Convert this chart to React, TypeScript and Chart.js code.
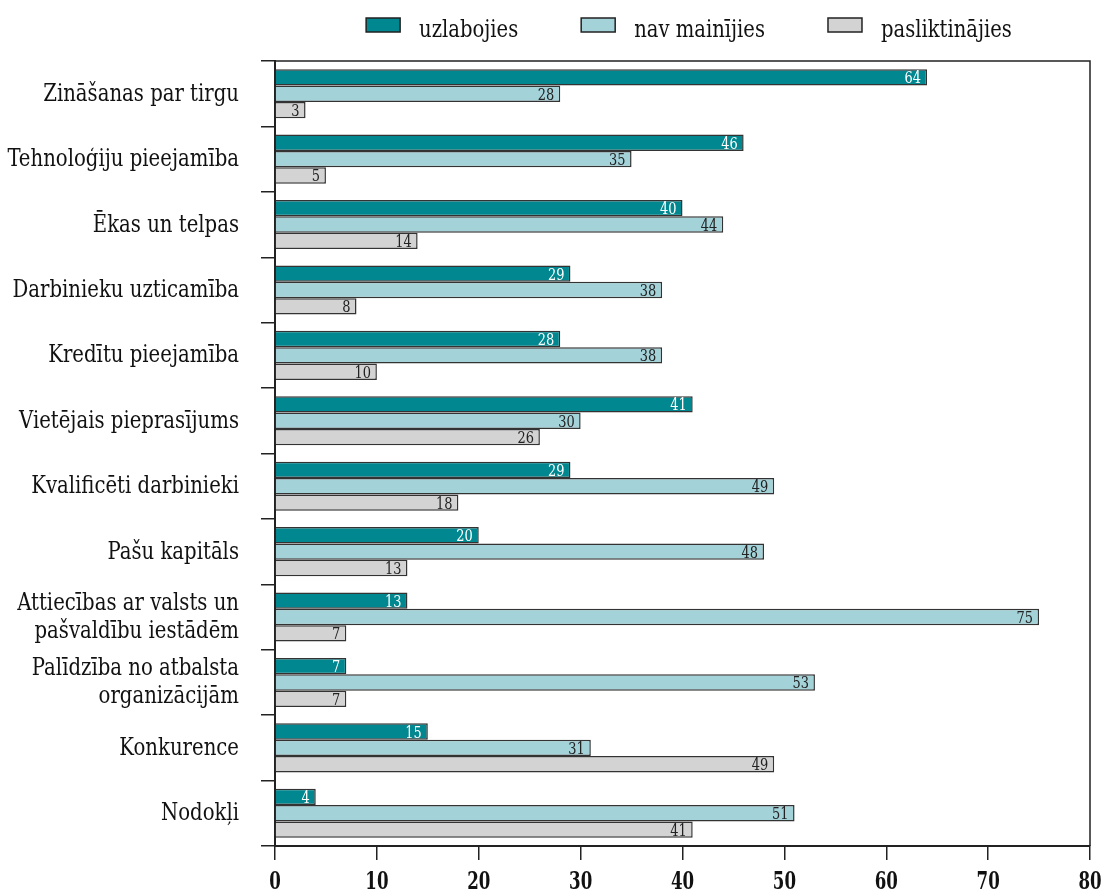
import { useEffect, useRef } from 'react';
import { Chart, registerables, Plugin } from 'chart.js';

Chart.register(...registerables);

const categories: (string | string[])[] = [
  'Zināšanas par tirgu',
  'Tehnoloģiju pieejamība',
  'Ēkas un telpas',
  'Darbinieku uzticamība',
  'Kredītu pieejamība',
  'Vietējais pieprasījums',
  'Kvalificēti darbinieki',
  'Pašu kapitāls',
  ['Attiecības ar valsts un', 'pašvaldību iestādēm'],
  ['Palīdzība no atbalsta', 'organizācijām'],
  'Konkurence',
  'Nodokļi',
];

const seriesNames = ['uzlabojies', 'nav mainījies', 'pasliktinājies'];
const improved = [64, 46, 40, 29, 28, 41, 29, 20, 13, 7, 15, 4];
const unchanged = [28, 35, 44, 38, 38, 30, 49, 48, 75, 53, 31, 51];
const worsened = [3, 5, 14, 8, 10, 26, 18, 13, 7, 7, 49, 41];

const colors = ['#00878f', '#a3d2d9', '#d3d3d3'];
const labelColors = ['#ffffff', '#222222', '#222222'];
const FONT = '"DejaVu Serif Condensed", "DejaVu Serif", serif';
const LINE = '#222222';
const TEXT = '#111111';

// the reference uses a narrow serif face, so text is squeezed sideways
function drawText(
  ctx: CanvasRenderingContext2D,
  text: string,
  x: number,
  y: number,
  font: string,
  sx: number,
  align: CanvasTextAlign,
) {
  ctx.save();
  ctx.font = font;
  ctx.textAlign = align;
  ctx.textBaseline = 'alphabetic';
  ctx.translate(x, y);
  ctx.scale(sx, 1);
  ctx.fillText(text, 0, 0);
  ctx.restore();
}

// value inside the end of every bar
const valueLabels: Plugin<'bar'> = {
  id: 'valueLabels',
  afterDatasetsDraw(chart) {
    const ctx = chart.ctx;
    chart.data.datasets.forEach((ds, i) => {
      const meta = chart.getDatasetMeta(i);
      ctx.fillStyle = labelColors[i];
      meta.data.forEach((el: any, j) => {
        drawText(ctx, String(ds.data[j]), el.x - 6, el.y + 6, `16px ${FONT}`, 0.9, 'right');
      });
    });
  },
};

// axis labels, frame round the plot and the legend on top
const frameAndLegend: Plugin<'bar'> = {
  id: 'frameAndLegend',
  afterDraw(chart) {
    const { ctx, chartArea: a } = chart;
    const xs: any = chart.scales.x;
    const ys: any = chart.scales.y;
    ctx.save();
    ctx.strokeStyle = LINE;
    ctx.lineWidth = 1.5;
    ctx.beginPath();
    ctx.moveTo(a.left, a.top);
    ctx.lineTo(a.right, a.top);
    ctx.lineTo(a.right, a.bottom);
    ctx.stroke();

    ctx.fillStyle = TEXT;
    categories.forEach((c, i) => {
      const lines = Array.isArray(c) ? c : [c];
      const cy = ys.getPixelForValue(i);
      lines.forEach((ln, k) => {
        const y = cy + 7 + (k - (lines.length - 1) / 2) * 28;
        drawText(ctx, ln, a.left - 36, y, `25px ${FONT}`, 0.875, 'right');
      });
    });

    xs.ticks.forEach((t: any) => {
      const x = xs.getPixelForValue(t.value);
      drawText(ctx, String(t.value), x, a.bottom + 43, `bold 25px ${FONT}`, 0.74, 'center');
    });

    // legend
    const font = `25px ${FONT}`;
    const sx = 0.87;
    ctx.font = font;
    const boxW = 34;
    const boxH = 14;
    const gap = 19;
    const spacing = 63;
    const widths = seriesNames.map(n => boxW + gap + ctx.measureText(n).width * sx);
    const total = widths.reduce((s, w) => s + w, 0) + spacing * (widths.length - 1);
    let x = 689 - total / 2;
    const y = 25;
    seriesNames.forEach((n, i) => {
      ctx.fillStyle = colors[i];
      ctx.fillRect(x, y - boxH / 2, boxW, boxH);
      ctx.strokeRect(x, y - boxH / 2, boxW, boxH);
      ctx.fillStyle = TEXT;
      drawText(ctx, n, x + boxW + gap, 37, font, sx, 'left');
      x += widths[i] + spacing;
    });
    ctx.restore();
  },
};

export default function App() {
  const canvasRef = useRef<HTMLCanvasElement>(null);

  useEffect(() => {
    if (!canvasRef.current) return;
    const chart = new Chart(canvasRef.current, {
      type: 'bar',
      data: {
        labels: categories,
        datasets: [improved, unchanged, worsened].map((d, i) => ({
          label: seriesNames[i],
          data: d,
          backgroundColor: colors[i],
          borderColor: '#333333',
          borderWidth: 1.5,
          categoryPercentage: 0.75,
          barPercentage: 1,
        })),
      },
      options: {
        indexAxis: 'y',
        animation: false,
        responsive: true,
        maintainAspectRatio: false,
        layout: { padding: { top: 61, right: 18, left: 0, bottom: 0 } },
        plugins: {
          legend: { display: false },
          tooltip: { enabled: false },
        },
        scales: {
          x: {
            min: 0,
            max: 80,
            ticks: { stepSize: 10, display: false },
            grid: {
              drawOnChartArea: false,
              drawTicks: true,
              tickLength: 14,
              color: LINE,
              lineWidth: 1.5,
            },
            border: { color: LINE, width: 2 },
            afterFit: (scale: any) => {
              scale.height = 47;
            },
          },
          y: {
            ticks: { display: false },
            grid: {
              drawOnChartArea: false,
              drawTicks: true,
              tickLength: 14,
              color: LINE,
              lineWidth: 1.5,
            },
            border: { color: LINE, width: 2 },
            afterFit: (scale: any) => {
              scale.width = 275;
            },
          },
        },
      },
      plugins: [valueLabels, frameAndLegend],
    });
    return () => chart.destroy();
  }, []);

  return (
    <div style={{ position: 'absolute', left: 0, top: 0, width: 1108, height: 893, background: '#fff' }}>
      <canvas ref={canvasRef} />
    </div>
  );
}
